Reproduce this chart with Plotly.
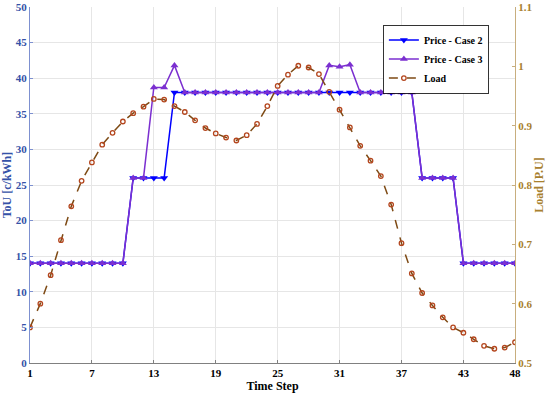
import plotly.graph_objects as go

steps = list(range(1, 49))
price_case2 = [14]*10 + [26]*4 + [38]*24 + [26]*4 + [14]*6
price_case3 = ([14]*10 + [26, 26, 38.7, 38.7, 41.8] + [38]*14 + [41.8, 41.6, 41.9]
               + [38]*6 + [26]*4 + [14]*6)
load = [0.560, 0.600, 0.648, 0.707, 0.764, 0.807, 0.838, 0.868, 0.888, 0.907,
        0.921, 0.932, 0.945, 0.944, 0.933, 0.923, 0.909, 0.896, 0.887, 0.880,
        0.875, 0.884, 0.903, 0.933, 0.967, 0.986, 1.001, 0.998, 0.987, 0.957,
        0.927, 0.897, 0.866, 0.841, 0.815, 0.767, 0.702, 0.651, 0.618, 0.597,
        0.577, 0.560, 0.551, 0.540, 0.529, 0.524, 0.526, 0.535]
x_ticks = [1, 7, 13, 19, 25, 31, 37, 43, 48]
y_ticks = list(range(0, 51, 5))
y2_ticks = [0.5, 0.6, 0.7, 0.8, 0.9, 1.0, 1.1]
y2_labels = ["0.5", "0.6", "0.7", "0.8", "0.9", "1", "1.1"]

FONT = "Liberation Serif"
BLUE_AX = "#3552A8"
GOLD_AX = "#A8802E"

fig = go.Figure()
fig.add_trace(go.Scatter(
    x=steps, y=price_case2, name="<b>Price - Case 2</b>", mode="lines+markers",
    line=dict(color="#0000FF", width=1.5),
    marker=dict(symbol="triangle-down", size=7, color="#0000FF")))
fig.add_trace(go.Scatter(
    x=steps, y=price_case3, name="<b>Price - Case 3</b>", mode="lines+markers",
    line=dict(color="#7B2FD0", width=1.5),
    marker=dict(symbol="triangle-up", size=7, color="#7B2FD0")))
fig.add_trace(go.Scatter(
    x=steps, y=load, name="<b>Load</b>", mode="lines+markers", yaxis="y2",
    line=dict(color="#7E4A14", width=1.5, dash="dash"),
    marker=dict(symbol="circle-open", size=4.5, color="#B4461E", line=dict(width=1.3))))

fig.update_layout(
    width=550, height=396,
    margin=dict(l=30, r=35, t=7, b=33),
    plot_bgcolor="white", paper_bgcolor="white",
    font=dict(family=FONT, size=11, color="black"),
    showlegend=True,
    legend=dict(x=0.728, y=0.95, xanchor="left", yanchor="top",
                bgcolor="white", bordercolor="black", borderwidth=0.8,
                font=dict(family=FONT, size=10, color="black"),
                tracegroupgap=0, itemwidth=30),
    xaxis=dict(range=[1, 48], tickvals=x_ticks, ticktext=[f"<b>{v}</b>" for v in x_ticks],
               showgrid=True, gridcolor="#E6E6E6", gridwidth=1, zeroline=False,
               showline=True, linecolor="#808080", linewidth=1, automargin=False,
               ticks="inside", ticklen=3, tickcolor="#808080",
               title=dict(text="<b>Time Step</b>", font=dict(size=12), standoff=2),
               tickfont=dict(size=11, color="black")),
    yaxis=dict(range=[0, 50], tickvals=y_ticks, ticktext=[f"<b>{v}</b>" for v in y_ticks],
               showgrid=True, gridcolor="#E6E6E6", gridwidth=1, zeroline=False,
               showline=True, linecolor="#7D90D0", linewidth=1, automargin=False,
               ticks="inside", ticklen=3, tickcolor="#7D90D0",
               tickfont=dict(size=11, color=BLUE_AX),
               title=dict(text="<b>ToU [c/kWh]</b>", font=dict(size=12, color=BLUE_AX), standoff=2)),
    yaxis2=dict(range=[0.5, 1.1], tickvals=y2_ticks, ticktext=[f"<b>{t}</b>" for t in y2_labels],
                overlaying="y", side="right", showgrid=False, zeroline=False,
                showline=True, linecolor="#C8AE7E", linewidth=1, automargin=False,
                ticks="inside", ticklen=3, tickcolor="#C8AE7E",
                tickfont=dict(size=11, color=GOLD_AX),
                title=dict(text="<b>Load [P.U]</b>", font=dict(size=12, color=GOLD_AX), standoff=2)),
)

fig.write_html("out.html", post_script="document.body.style.margin='0';",
               config={"displayModeBar": False})
